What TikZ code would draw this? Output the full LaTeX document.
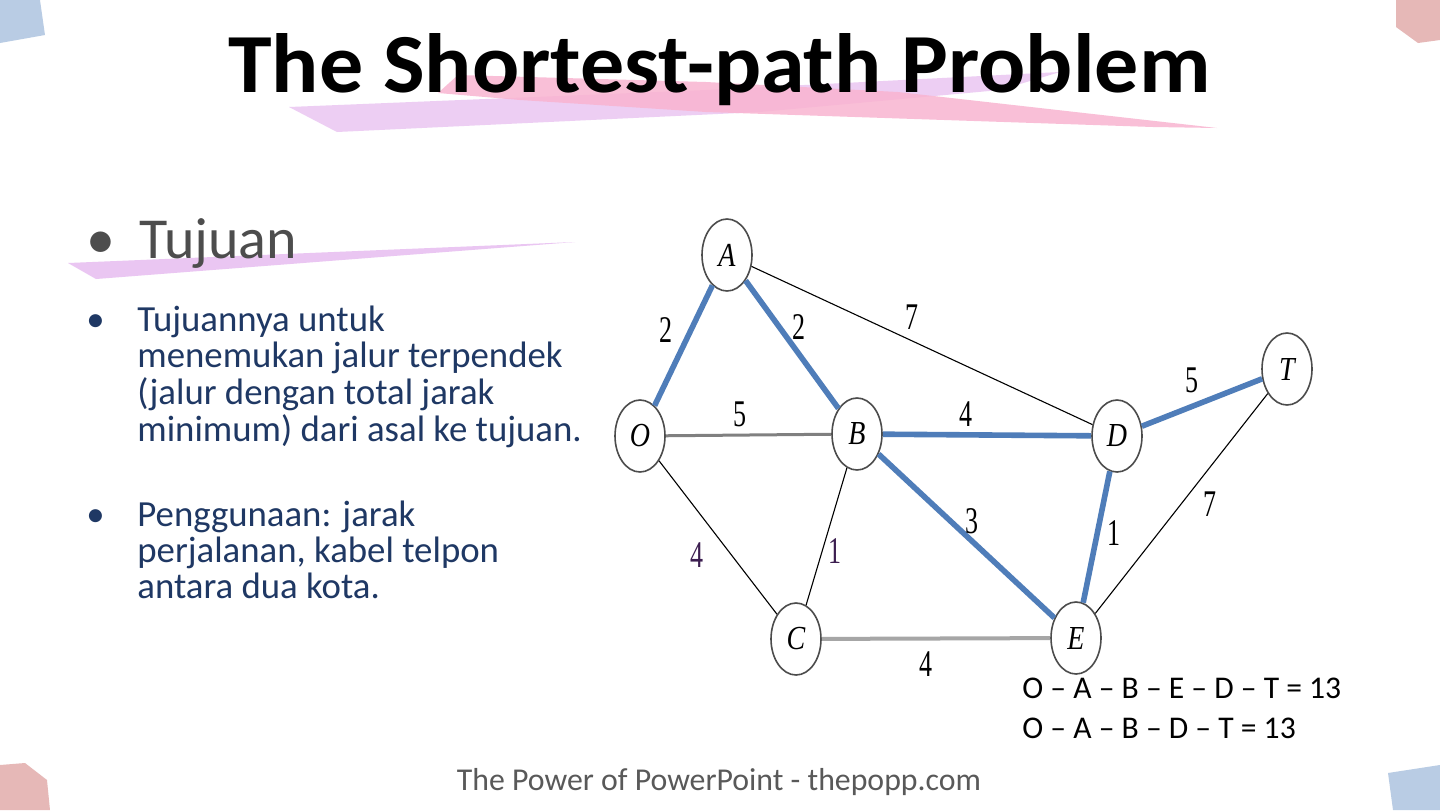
\documentclass[tikz,border=0pt]{standalone}
\usepackage{fontspec}
\usepackage{graphicx}
\setmainfont{Carlito}
\newfontfamily\graphfont{Liberation Serif}
\usetikzlibrary{shapes.geometric}

\definecolor{pathblue}{RGB}{79,125,185}
\definecolor{textblue}{RGB}{31,56,100}
\definecolor{headgray}{RGB}{77,77,77}
\definecolor{footgray}{RGB}{89,89,89}
\definecolor{cornerblue}{RGB}{185,204,228}
\definecolor{cornerpink}{RGB}{230,184,183}
\definecolor{lavender}{RGB}{234,198,242}
\definecolor{rosepink}{RGB}{249,180,208}
\definecolor{labpurple}{RGB}{60,30,80}

\newcommand{\wt}[1]{\scalebox{1}[1.45]{#1}}
\newcommand{\vx}[1]{\scalebox{1}[1.2]{#1}}
\newcommand{\lines}[1]{\begin{tabular}[t]{@{}l@{}}#1\end{tabular}}

\tikzset{
  vertex/.style={ellipse, draw=black!70, line width=0.8pt, fill=white,
    minimum width=25pt, minimum height=36pt, inner sep=0pt,
    font=\graphfont\itshape\fontsize{14pt}{14pt}\selectfont},
  weight/.style={inner sep=0pt, font=\graphfont\fontsize{13pt}{13pt}\selectfont},
  plain edge/.style={draw=black, line width=0.55pt},
  short edge/.style={draw=pathblue, line width=2.8pt},
  body/.style={anchor=base west, inner sep=0pt, text=textblue,
    font=\fontsize{18.4pt}{17.5pt}\selectfont},
  sum line/.style={anchor=base west, inner sep=0pt, font=\fontsize{15.8pt}{16pt}\selectfont}
}

\begin{document}
\begin{tikzpicture}[x=0.5pt,y=-0.5pt]
    \useasboundingbox (0,0) rectangle (1440,810);
    \fill[white] (0,0) rectangle (1440,810);

    % corner pieces
    \fill[cornerblue] (0,0) -- (40,0) -- (45,35) -- (0,43) -- cycle;
    \fill[cornerpink] (1396,0) -- (1440,0) -- (1440,40) -- (1418,43) -- (1396,27) -- cycle;
    \fill[cornerpink] (0,765) -- (25,763) -- (47,780) -- (50,810) -- (0,810) -- cycle;
    \fill[cornerblue] (1388,773) -- (1440,765) -- (1440,810) -- (1393,810) -- cycle;

    % brush strokes
    \fill[lavender, fill opacity=0.85] (289,107) -- (706,90) -- (1060,72) -- (1000,90) -- (760,112) -- (337,132) -- cycle;
    \fill[rosepink, fill opacity=0.85] (438,93) -- (458,75) -- (706,82) -- (898,92) -- (1217,128) -- (1153,127) -- (706,112) -- (520,100) -- cycle;
    \fill[lavender] (68,263) -- (575,242) -- (96,279) -- cycle;

    % title and text
    \node[anchor=base west, inner sep=0pt] (title) at (228,92)
        {\resizebox{491pt}{29.5pt}{\bfseries The Shortest-path Problem}};
    \node[anchor=base west, inner sep=0pt, text=headgray, font=\fontsize{29pt}{30pt}\selectfont] (headBullet) at (86,258) {•};
    \node[anchor=base west, inner sep=0pt, text=headgray, font=\fontsize{29pt}{30pt}\selectfont] (head) at (139,258) {Tujuan};

    \node[body] (bulletOne) at (86,331) {•};
    \node[body] (goal) at (137,331) {\lines{Tujuannya untuk\\menemukan jalur terpendek\\(jalur dengan total jarak\\minimum) dari asal ke tujuan.}};
    \node[body] (bulletTwo) at (86,526) {•};
    \node[body] (usage) at (137,526) {\lines{Penggunaan: jarak\\perjalanan, kabel telpon\\antara dua kota.}};

    % graph
    \node[vertex] (O) at (640,436) {\vx{O}};
    \node[vertex] (A) at (727,255) {\vx{A}};
    \node[vertex] (B) at (857,434) {\vx{B}};
    \node[vertex] (D) at (1117,436) {\vx{D}};
    \node[vertex] (T) at (1287,369) {\vx{T}};
    \node[vertex] (C) at (796,639) {\vx{C}};
    \node[vertex] (E) at (1076,638) {\vx{E}};

    \draw[plain edge] (A) -- (D);
    \draw[plain edge] (O) -- (C);
    \draw[plain edge] (B) -- (C);
    \draw[plain edge] (E) -- (T);
    \draw[draw=black!50, line width=1.5pt] (O) -- (B);
    \draw[draw=black!35, line width=2pt] (C) -- (E);
    \draw[short edge] (O) -- (A);
    \draw[short edge] (A) -- (B);
    \draw[short edge] (B) -- (D);
    \draw[short edge] (B) -- (E);
    \draw[short edge] (E) -- (D);
    \draw[short edge] (D) -- (T);

    \node[weight] (wOA) at (666,330) {\wt{2}};
    \node[weight] (wAB) at (799,327) {\wt{2}};
    \node[weight] (wAD) at (912,317) {\wt{7}};
    \node[weight] (wOB) at (740,414) {\wt{5}};
    \node[weight] (wBD) at (966,414) {\wt{4}};
    \node[weight] (wDT) at (1192,380) {\wt{5}};
    \node[weight] (wBE) at (972,521) {\wt{3}};
    \node[weight] (wDE) at (1114,533) {\wt{1}};
    \node[weight] (wET) at (1210,504) {\wt{7}};
    \node[weight, text=labpurple] (wOC) at (697,555) {\wt{4}};
    \node[weight, text=labpurple] (wBC) at (835,551) {\wt{1}};
    \node[weight] (wCE) at (926,664) {\wt{4}};

    % totals and footer
    \node[sum line] (sumOne) at (1022,698) {O – A – B – E – D – T = 13};
    \node[sum line] (sumTwo) at (1022,738) {O – A – B – D – T = 13};
    \node[anchor=base, inner sep=0pt, text=footgray, font=\fontsize{15.9pt}{16pt}\selectfont] (footer) at (719,790)
        {The Power of PowerPoint - thepopp.com};
\end{tikzpicture}
\end{document}
